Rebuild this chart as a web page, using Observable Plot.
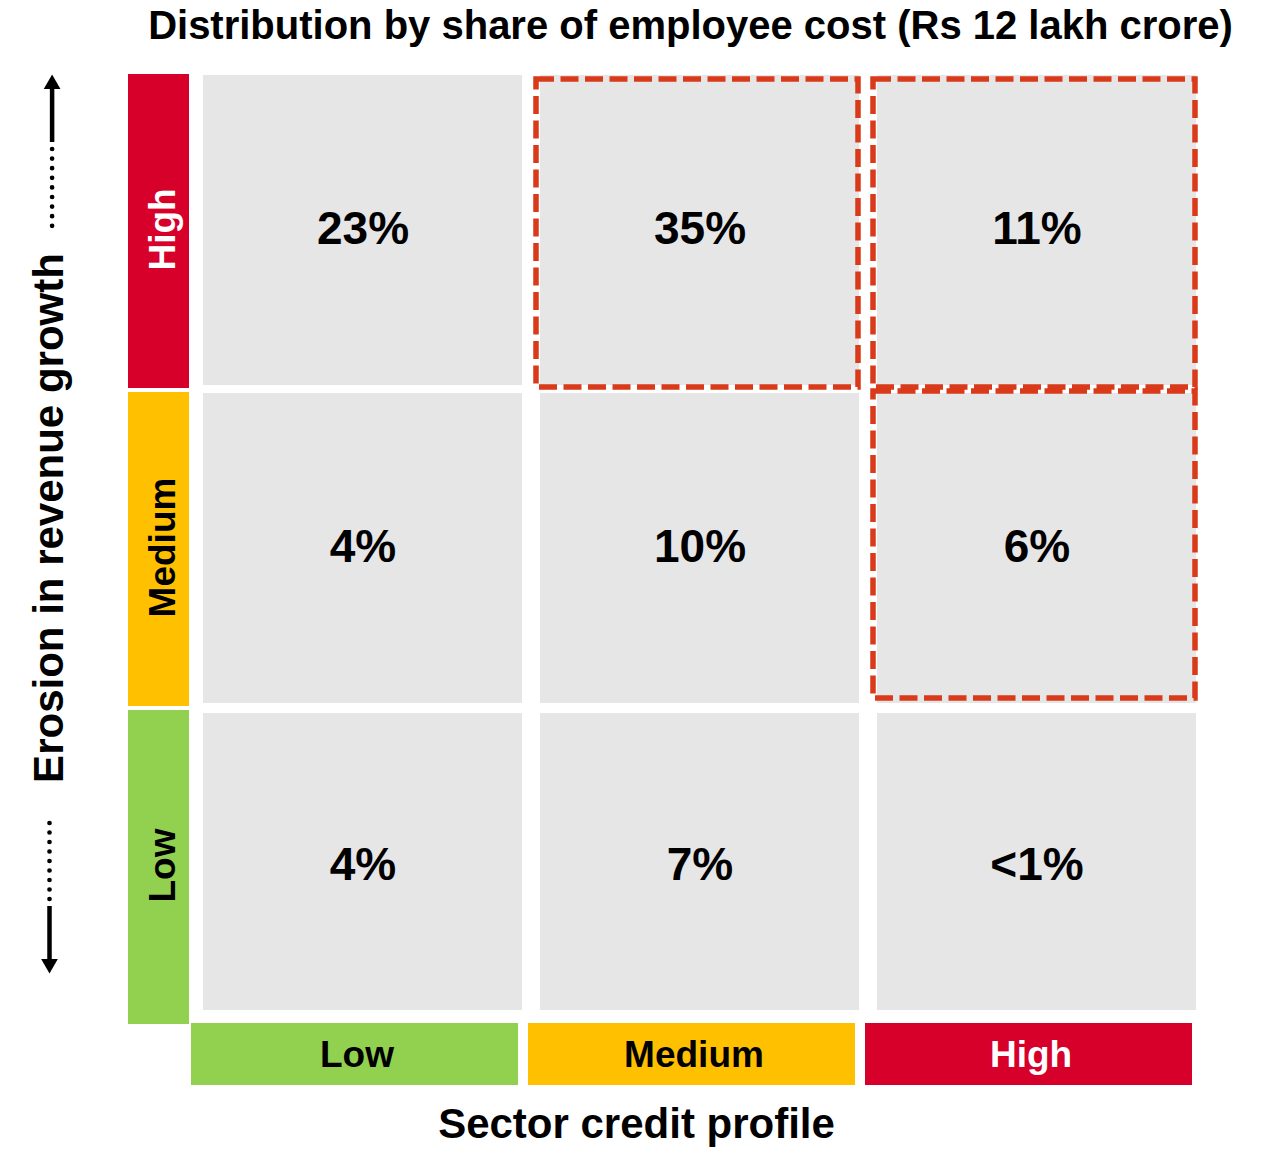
<!DOCTYPE html>
<html>
<head>
<meta charset="utf-8">
<script src="https://cdn.jsdelivr.net/npm/d3@7"></script>
<script src="https://cdn.jsdelivr.net/npm/@observablehq/plot@0.6"></script>
<style>
  body { margin: 0; background: #fff; font-family: "Liberation Sans", Arial, sans-serif; }
  #title { width: 1261px; height: 60px; box-sizing: border-box; padding-left: 120px; line-height: 50px;
           font-size: 40px; font-weight: bold; text-align: center; white-space: nowrap; color: #000; }
</style>
</head>
<body>
<div id="title">Distribution by share of employee cost (Rs 12 lakh crore)</div>
<div id="chart"></div>
<script>
// ---- data ----
const creditLevels = ["Low", "Medium", "High"];      // x: Sector credit profile
const erosionLevels = ["High", "Medium", "Low"];     // y: Erosion in revenue growth (top to bottom)
const levelColors = {Low: "#92d050", Medium: "#ffc000", High: "#d6002b"};
const shareErosionHigh = ["23%", "35%", "11%"];
const shareErosionMedium = ["4%", "10%", "6%"];
const shareErosionLow = ["4%", "7%", "<1%"];
const highlighted = [["High", "Medium"], ["High", "High"], ["Medium", "High"]]; // [erosion, credit]
const xTitle = "Sector credit profile";
const yTitle = "Erosion in revenue growth";

const shareRows = {High: shareErosionHigh, Medium: shareErosionMedium, Low: shareErosionLow};
const cells = erosionLevels.flatMap(e => creditLevels.map((c, j) => ({erosion: e, credit: c, share: shareRows[e][j]})));
const upperCells = cells.filter(d => d.erosion !== "Low");
const lowerCells = cells.filter(d => d.erosion === "Low");
const isHi = d => highlighted.some(([e, c]) => e === d.erosion && c === d.credit);
const hiTop = cells.filter(d => isHi(d) && d.erosion === "High");
const hiMid = cells.filter(d => isHi(d) && d.erosion === "Medium");

// ---- layout ----
const W = 1261, H = 1089;
const mL = 194, mR = 56, mT = 10, mB = 125;
const frameCx = (mL + W - mR) / 2;
const font = '"Liberation Sans", Arial, sans-serif';
const red = "#d93a1a";
const grey = "#e6e6e6";

const triangleDown = {
  draw(ctx, size) {
    const y = -Math.sqrt(size / (Math.sqrt(3) * 3));
    ctx.moveTo(0, -y * 2);
    ctx.lineTo(-Math.sqrt(3) * y, y);
    ctx.lineTo(Math.sqrt(3) * y, y);
    ctx.closePath();
  }
};

const chart = Plot.plot({
  width: W, height: H,
  marginLeft: mL, marginRight: mR, marginTop: mT, marginBottom: mB,
  style: {fontFamily: font, background: "white", overflow: "visible"},
  x: {type: "band", domain: creditLevels, padding: 0, axis: null},
  y: {type: "band", domain: erosionLevels, padding: 0, axis: null},
  color: {type: "identity"},
  marks: [
    // grey matrix cells
    Plot.cell(upperCells, {x: "credit", y: "erosion", fill: grey, insetLeft: 9, insetRight: 9, insetTop: 5, insetBottom: 3}),
    Plot.cell(lowerCells, {x: "credit", y: "erosion", fill: grey, insetLeft: 9, insetRight: 9, insetTop: 7, insetBottom: 14}),
    // row (erosion) label strips
    Plot.cell(erosionLevels, {y: d => d, fill: d => levelColors[d], insetLeft: -66, insetRight: 1016, insetTop: 4, insetBottom: 0}),
    Plot.text(erosionLevels, {y: d => d, text: d => d, frameAnchor: "left", textAnchor: "middle", lineAnchor: "middle",
      dx: -31, rotate: -90, fill: d => d === "High" ? "white" : "black", fontSize: 37, fontWeight: "bold"}),
    // column (credit) label strips
    Plot.cell(creditLevels, {x: d => d, fill: d => levelColors[d], insetLeft: -3, insetRight: 13, insetTop: 953, insetBottom: -61}),
    Plot.text(creditLevels, {x: d => d, text: d => d, frameAnchor: "bottom", textAnchor: "middle", lineAnchor: "middle",
      dx: -6, dy: 31, fill: d => d === "High" ? "white" : "black", fontSize: 37, fontWeight: "bold"}),
    // highlighted dashed boxes
    Plot.cell(hiTop, {x: "credit", y: "erosion", fill: "none", stroke: red, strokeWidth: 5.5, strokeDasharray: "18,6.5",
      insetLeft: 5, insetRight: 10, insetTop: 9, insetBottom: 1}),
    Plot.cell(hiMid, {x: "credit", y: "erosion", fill: "none", stroke: red, strokeWidth: 5.5, strokeDasharray: "18,6.5",
      insetLeft: 5, insetRight: 10, insetTop: 3, insetBottom: 8}),
    // values
    Plot.text(cells, {x: "credit", y: "erosion", text: "share", fontSize: 46, fontWeight: "bold", fill: "black"}),
    // axis titles
    Plot.text([xTitle], {x: null, y: null, frameAnchor: "bottom", textAnchor: "middle", lineAnchor: "middle",
      dx: -63.5, dy: 99.6, fontSize: 42, fontWeight: "bold", fill: "black"}),
    Plot.text([yTitle], {x: null, y: null, frameAnchor: "left", textAnchor: "middle", lineAnchor: "middle",
      dx: -145, dy: -29.5, rotate: -90, fontSize: 42, fontWeight: "bold", fill: "black"}),
    // top arrow
    Plot.dot([0], {x: null, y: null, frameAnchor: "top-left", dx: -142.4, dy: 13.6, symbol: "triangle", r: 6.2, fill: "black", stroke: "none"}),
    Plot.ruleX([0], {x: null, dx: 51.6 - frameCx, insetTop: 18, insetBottom: 882, stroke: "black", strokeWidth: 4.5}),
    Plot.ruleX([0], {x: null, dx: 51.6 - frameCx, insetTop: 79, insetBottom: 797.5, stroke: "black", strokeWidth: 4.7,
      strokeDasharray: "0,9.6", strokeLinecap: "round"}),
    // bottom arrow
    Plot.ruleX([0], {x: null, dx: 49 - frameCx, insetTop: 753, insetBottom: 124.5, stroke: "black", strokeWidth: 4.7,
      strokeDasharray: "0,9.5", strokeLinecap: "round"}),
    Plot.ruleX([0], {x: null, dx: 49 - frameCx, insetTop: 836, insetBottom: 64, stroke: "black", strokeWidth: 4.5}),
    Plot.dot([0], {x: null, y: null, frameAnchor: "bottom-left", dx: -145, dy: -60.6, symbol: triangleDown, r: 6.2, fill: "black", stroke: "none"})
  ]
});
document.getElementById("chart").appendChild(chart);
</script>
</body>
</html>
